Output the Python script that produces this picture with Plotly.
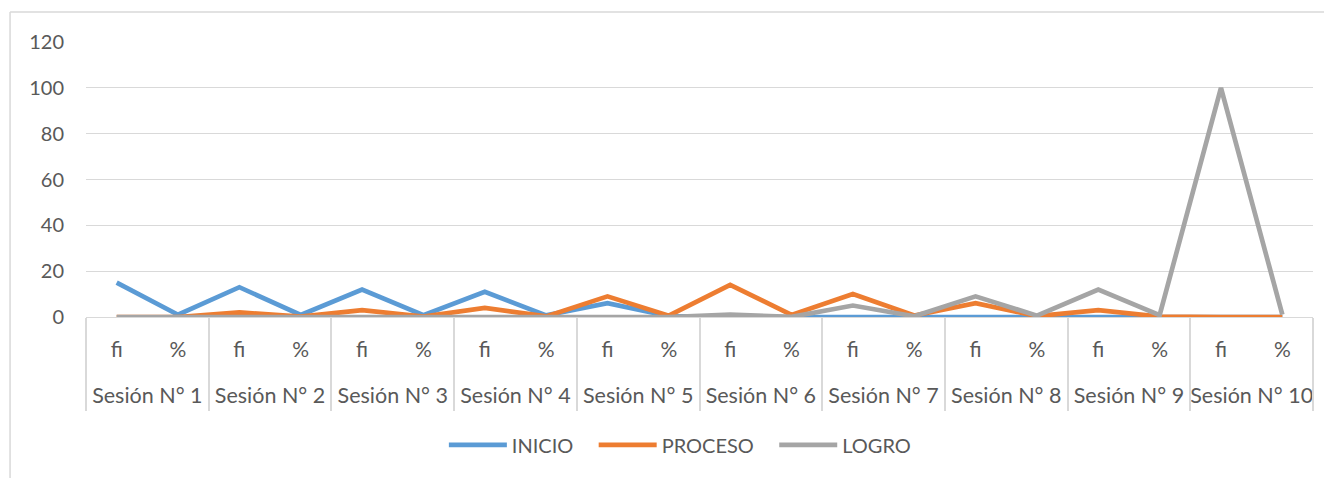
import plotly.graph_objects as go

sessions = [f"Sesión N° {i}" for i in range(1, 11)]
sub_labels = ["fi", "%"]

inicio_fi = [15, 13, 12, 11, 6, 0, 0, 0, 0, 0]
proceso_fi = [0, 2, 3, 4, 9, 14, 10, 6, 3, 0]
logro_fi = [0, 0, 0, 0, 0, 1, 5, 9, 12, 100]

inicio_pct = [1.0, 0.87, 0.8, 0.73, 0.4, 0.0, 0.0, 0.0, 0.0, 0.0]
proceso_pct = [0.0, 0.13, 0.2, 0.27, 0.6, 0.93, 0.67, 0.4, 0.2, 0.0]
logro_pct = [0.0, 0.0, 0.0, 0.0, 0.0, 0.07, 0.33, 0.6, 0.8, 1.0]

inner = [l for _ in sessions for l in sub_labels]
n = len(inner)
xpos = list(range(n))


def interleave(fi, pct):
    out = []
    for a, b in zip(fi, pct):
        out += [a, b]
    return out


series = [
    ("INICIO", interleave(inicio_fi, inicio_pct), "#5B9BD5"),
    ("PROCESO", interleave(proceso_fi, proceso_pct), "#ED7D31"),
    ("LOGRO", interleave(logro_fi, logro_pct), "#A5A5A5"),
]

FONT = "Lato"
TXT = "#595959"
GRID = "#D9D9D9"
PAD = "\u00a0" * 3
fig = go.Figure()
for i, (name, vals, col) in enumerate(series):
    fig.add_trace(go.Scatter(
        x=xpos, y=vals, name=name + (PAD if i < len(series) - 1 else ""), mode="lines",
        line=dict(color=col, width=4.7),
    ))

xr = [-0.5, n - 0.5]
group_size = len(sub_labels)
session_centers = [i * group_size + (group_size - 1) / 2 for i in range(len(sessions))]
boundaries = [i * group_size - 0.5 for i in range(len(sessions) + 1)]

fig.update_layout(
    width=1332, height=478,
    margin=dict(l=78, r=27, t=34, b=169, autoexpand=False),
    paper_bgcolor="white", plot_bgcolor="white",
    font=dict(family=FONT, size=18, color=TXT),
    showlegend=True,
    legend=dict(orientation="h", x=0.484, xanchor="center", y=-0.465, yanchor="middle",
                font=dict(size=20, color=TXT), itemwidth=58, traceorder="normal"),
    xaxis=dict(range=xr, tickvals=xpos, ticktext=inner, showgrid=False, showline=False,
               zeroline=False, ticks="", ticklabelstandoff=18, automargin=False,
               tickfont=dict(size=21, color=TXT)),
    xaxis2=dict(range=xr, overlaying="x", side="bottom", anchor="y",
                tickvals=session_centers, ticktext=sessions, showgrid=False,
                showline=False, zeroline=False, ticks="", ticklabelstandoff=63,
                automargin=False, tickfont=dict(size=21.5, color=TXT)),
    xaxis3=dict(range=xr, overlaying="x", side="bottom", anchor="y",
                tickvals=boundaries, showticklabels=False, showgrid=False,
                showline=False, zeroline=False, ticks="outside", ticklen=93,
                tickcolor=GRID, tickwidth=1.5, automargin=False),
    yaxis=dict(range=[0, 120], dtick=20, showgrid=True, gridcolor=GRID, gridwidth=1,
               zeroline=True, zerolinecolor=GRID, zerolinewidth=1,
               showline=False, ticks="", ticklabelstandoff=21, automargin=False,
               tickfont=dict(size=20, color=TXT)),
    shapes=[
        dict(type="line", xref="paper", yref="paper", x0=-0.0619, x1=-0.0619,
             y0=1.109, y1=-0.6, line=dict(color=GRID, width=1.5)),
        dict(type="line", xref="paper", yref="paper", x0=-0.0619, x1=1.03,
             y0=1.109, y1=1.109, line=dict(color=GRID, width=1.5)),
    ],
)
# invisible traces to activate the secondary category axes
fig.add_trace(go.Scatter(x=[xr[0]], y=[None], xaxis="x2", showlegend=False, hoverinfo="skip"))
fig.add_trace(go.Scatter(x=[xr[0]], y=[None], xaxis="x3", showlegend=False, hoverinfo="skip"))

fig.write_html("out.html")
